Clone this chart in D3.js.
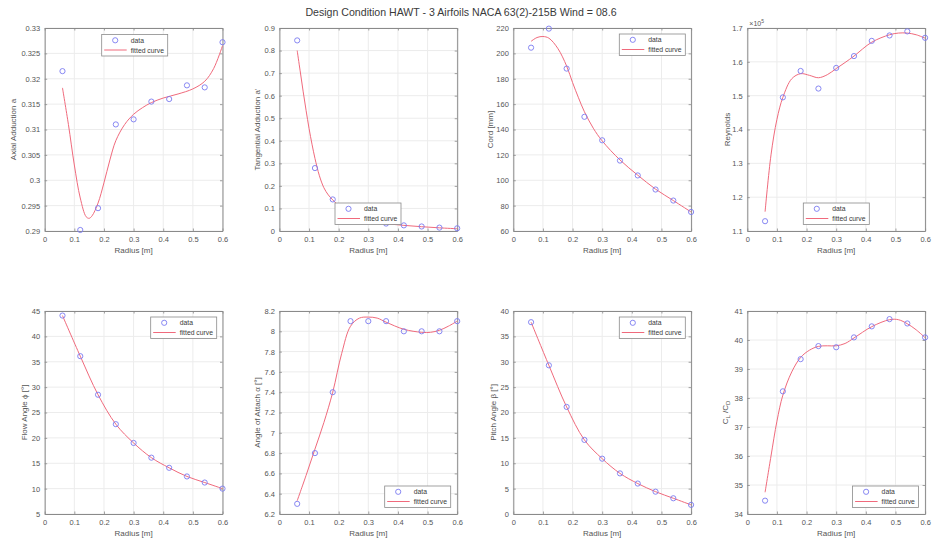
<!DOCTYPE html>
<html><head><meta charset="utf-8">
<script src="https://cdn.jsdelivr.net/npm/d3@7"></script>
<style>
html,body{margin:0;padding:0;background:#fff;}
svg{display:block;font-family:"Liberation Sans",Arial,Helvetica,sans-serif;}
</style></head>
<body><svg id="chart" width="932" height="540"></svg>
<script>
// ---------------- DATA ----------------
const radius = [0.06, 0.12, 0.18, 0.24, 0.30, 0.36, 0.42, 0.48, 0.54, 0.60];
const xTicks = [0, 0.1, 0.2, 0.3, 0.4, 0.5, 0.6];

const axialA      = [0.3215, 0.2902, 0.2945, 0.3110, 0.3120, 0.3155, 0.3160, 0.3187, 0.3183, 0.3272];
const tangentialA = [0.845, 0.279, 0.140, 0.075, 0.048, 0.033, 0.025, 0.020, 0.015, 0.012];
const cord        = [204.5, 219.5, 188, 150, 131.5, 115.5, 103.8, 92.7, 84, 75];
const reynolds    = [112900, 149500, 157300, 152100, 158200, 161700, 166200, 167800, 169000, 167100];
const flowAngle   = [44.1, 36.1, 28.5, 22.7, 19.0, 16.1, 14.1, 12.4, 11.2, 10.0];
const attackAngle = [6.3, 6.8, 7.4, 8.1, 8.1, 8.1, 8.0, 8.0, 8.0, 8.1];
const pitchAngle  = [37.8, 29.3, 21.1, 14.6, 10.9, 8.0, 6.0, 4.4, 3.1, 1.8];
const clcd        = [34.46, 38.23, 39.34, 39.79, 39.75, 40.09, 40.47, 40.72, 40.57, 40.09];

// fitted curves
const fitRAxial = [0.06, 0.08, 0.10, 0.12, 0.14, 0.15, 0.16, 0.18, 0.20, 0.22, 0.24, 0.27, 0.30, 0.33, 0.36, 0.40, 0.45, 0.50, 0.54, 0.57, 0.60];
const fitAxial  = [0.3182, 0.3110, 0.3030, 0.2965, 0.2928, 0.2925, 0.2930, 0.2955, 0.2995, 0.3040, 0.3078, 0.3110, 0.3130, 0.3143, 0.3153, 0.3162, 0.3170, 0.3180, 0.3195, 0.3220, 0.3265];
const fitRTang  = [0.06, 0.07, 0.08, 0.09, 0.10, 0.11, 0.12, 0.135, 0.15, 0.165, 0.18, 0.21, 0.24, 0.27, 0.30, 0.36, 0.42, 0.48, 0.54, 0.60];
const fitTang   = [0.80, 0.71, 0.62, 0.535, 0.455, 0.385, 0.322, 0.245, 0.192, 0.160, 0.138, 0.100, 0.072, 0.055, 0.045, 0.033, 0.025, 0.019, 0.014, 0.010];
const fitRCord  = [0.06, 0.08, 0.10, 0.12, 0.15, 0.18, 0.20, 0.22, 0.24, 0.27, 0.30, 0.36, 0.42, 0.48, 0.54, 0.60];
const fitCord   = [209.5, 212.5, 213.3, 212, 204, 190, 177, 165, 154, 141, 131, 116, 104, 93, 84, 75];
const fitRRe    = [0.06, 0.08, 0.10, 0.12, 0.15, 0.18, 0.21, 0.24, 0.27, 0.30, 0.33, 0.36, 0.42, 0.48, 0.51, 0.54, 0.57, 0.60];
const fitRe     = [115700, 132500, 143000, 149500, 155000, 156500, 156000, 155300, 156200, 158000, 159800, 161700, 165800, 168000, 168500, 168500, 168000, 167000];
const fitRFlow  = radius;
const fitFlow   = flowAngle;
const fitRAtt   = [0.06, 0.09, 0.12, 0.15, 0.18, 0.21, 0.24, 0.27, 0.30, 0.33, 0.36, 0.42, 0.48, 0.51, 0.54, 0.57, 0.60];
const fitAtt    = [6.33, 6.58, 6.84, 7.10, 7.40, 7.78, 8.05, 8.13, 8.14, 8.13, 8.09, 8.02, 7.99, 7.99, 8.01, 8.05, 8.10];
const fitRPitch = radius;
const fitPitch  = pitchAngle;
const fitRClcd  = [0.06, 0.08, 0.10, 0.12, 0.15, 0.18, 0.21, 0.24, 0.27, 0.30, 0.33, 0.36, 0.42, 0.48, 0.51, 0.54, 0.57, 0.60];
const fitClcd   = [34.75, 36.0, 37.2, 38.1, 38.9, 39.4, 39.65, 39.78, 39.80, 39.80, 39.88, 40.07, 40.46, 40.70, 40.70, 40.56, 40.35, 40.08];

const yTicksAxial = [0.29, 0.295, 0.30, 0.305, 0.31, 0.315, 0.32, 0.325, 0.33];
const yTicksTang  = [0, 0.1, 0.2, 0.3, 0.4, 0.5, 0.6, 0.7, 0.8, 0.9];
const yTicksCord  = [60, 80, 100, 120, 140, 160, 180, 200, 220];
const yTicksRe    = [110000, 120000, 130000, 140000, 150000, 160000, 170000];
const yTicksFlow  = [5, 10, 15, 20, 25, 30, 35, 40, 45];
const yTicksAtt   = [6.2, 6.4, 6.6, 6.8, 7, 7.2, 7.4, 7.6, 7.8, 8, 8.2];
const yTicksPitch = [0, 5, 10, 15, 20, 25, 30, 35, 40];
const yTicksClcd  = [34, 35, 36, 37, 38, 39, 40, 41];

const titleText = "Design Condition HAWT - 3 Airfoils NACA 63(2)-215B Wind = 08.6";
const xLabel = "Radius [m]";
const legendLabels = ["data", "fitted curve"];

// ---------------- LAYOUT ----------------
const colLeft = [44.7, 279.4, 513.3, 747.3];
const rowTop = [28, 311];
const W = 177.8, H = 203;

const panels = [
  {y: axialA, fr: fitRAxial, fy: fitAxial, ticks: yTicksAxial, label: "Axial Adduction a", leg: "tl", legX: 57, ylo: 28.5},
  {y: tangentialA, fr: fitRTang, fy: fitTang, ticks: yTicksTang, label: "Tangential Adduction a'", leg: "bl", legX: 55.6, ylo: 19.5},
  {y: cord, fr: fitRCord, fy: fitCord, ticks: yTicksCord, label: "Cord [mm]", leg: "tr", ylo: 20.5},
  {y: reynolds, fr: fitRRe, fy: fitRe, ticks: yTicksRe, label: "Reynolds", leg: "bl", legX: 56, ylo: 17.5, fmt: v => d3.format("~")(+(v/1e5).toFixed(2)), expo: true},
  {y: flowAngle, fr: fitRFlow, fy: fitFlow, ticks: yTicksFlow, label: "Flow Angle \u03D5 [\u00B0]", leg: "tr", ylo: 17.7},
  {y: attackAngle, fr: fitRAtt, fy: fitAtt, ticks: yTicksAtt, label: "Angle of Attach \u03B1 [\u00B0]", leg: "br", ylo: 19.7},
  {y: pitchAngle, fr: fitRPitch, fy: fitPitch, ticks: yTicksPitch, label: "Pitch Angle \u03B2 [\u00B0]", leg: "tr", ylo: 17.6},
  {y: clcd, fr: fitRClcd, fy: fitClcd, ticks: yTicksClcd, label: "CLCD", leg: "br", ylo: 19.5, sub: true}
];

const axisCol = "#8a8a8a", gridCol = "#ececec", textCol = "#555";
const markCol = "#7a7af0", lineCol = "#f06a7c";

const svg = d3.select("#chart");

svg.append("text").attr("x", 461).attr("y", 15.5).attr("text-anchor", "middle")
  .attr("font-size", 10.6).attr("fill", "#3a3a3a").text(titleText);

panels.forEach((p, i) => {
  const left = colLeft[i % 4], top = rowTop[Math.floor(i / 4)];
  const x = d3.scaleLinear().domain([0, 0.6]).range([0, W]);
  const y = d3.scaleLinear().domain(d3.extent(p.ticks)).range([H, 0]);
  const g = svg.append("g").attr("transform", `translate(${left},${top})`);

  // grid
  g.append("g").selectAll("line").data(xTicks).join("line")
    .attr("x1", d => x(d)).attr("x2", d => x(d)).attr("y1", 0).attr("y2", H)
    .attr("stroke", gridCol).attr("stroke-width", 1);
  g.append("g").selectAll("line").data(p.ticks).join("line")
    .attr("y1", d => y(d)).attr("y2", d => y(d)).attr("x1", 0).attr("x2", W)
    .attr("stroke", gridCol).attr("stroke-width", 1);

  const fmt = p.fmt || (v => d3.format("~")(+v.toFixed(4)));
  const styleAxis = sel => {
    sel.select(".domain").attr("stroke", axisCol).attr("stroke-width", 1);
    sel.selectAll(".tick line").attr("stroke", axisCol).attr("stroke-width", 0.8);
    sel.selectAll("text").attr("fill", textCol).attr("font-size", 7.5)
      .attr("font-family", '"Liberation Sans",Arial,sans-serif');
  };
  g.append("g").attr("transform", `translate(0,${H})`)
    .call(d3.axisBottom(x).tickValues(xTicks).tickFormat(d => d3.format("~")(+d.toFixed(2))).tickSize(-2.5).tickSizeOuter(0).tickPadding(5.2))
    .call(styleAxis);
  g.append("g")
    .call(d3.axisTop(x).tickValues(xTicks).tickFormat("").tickSize(-2.5).tickSizeOuter(0))
    .call(styleAxis);
  g.append("g")
    .call(d3.axisLeft(y).tickValues(p.ticks).tickFormat(fmt).tickSize(-2.5).tickSizeOuter(0).tickPadding(4.5))
    .call(styleAxis);
  g.append("g").attr("transform", `translate(${W},0)`)
    .call(d3.axisRight(y).tickValues(p.ticks).tickFormat("").tickSize(-2.5).tickSizeOuter(0))
    .call(styleAxis);

  // x label
  g.append("text").attr("x", W / 2).attr("y", H + 22).attr("text-anchor", "middle")
    .attr("font-size", 8).attr("fill", textCol).text(xLabel);
  // y label
  const yl = g.append("text").attr("transform", `translate(${-p.ylo},${H / 2}) rotate(-90)`)
    .attr("text-anchor", "middle").attr("font-size", 8).attr("fill", textCol);
  if (p.sub) {
    yl.append("tspan").text("C");
    yl.append("tspan").attr("font-size", 6).attr("dy", 2).text("L");
    yl.append("tspan").attr("dy", -2).text(" /C");
    yl.append("tspan").attr("font-size", 6).attr("dy", 2).text("D");
  } else {
    yl.text(p.label);
  }
  if (p.expo) {
    const t = g.append("text").attr("x", 2).attr("y", -2.5).attr("font-size", 7).attr("fill", textCol);
    t.append("tspan").text("\u00D710");
    t.append("tspan").attr("font-size", 5).attr("dy", -3).text("5");
  }

  // fitted curve
  const pts = p.fr.map((r, k) => [r, p.fy[k]]);
  g.append("path").datum(pts)
    .attr("d", d3.line().x(d => x(d[0])).y(d => y(d[1])).curve(d3.curveCatmullRom.alpha(0.5)))
    .attr("fill", "none").attr("stroke", lineCol).attr("stroke-width", 1);
  // data markers
  g.append("g").selectAll("circle").data(radius.map((r, k) => [r, p.y[k]])).join("circle")
    .attr("cx", d => x(d[0])).attr("cy", d => y(d[1])).attr("r", 2.6)
    .attr("fill", "none").attr("stroke", markCol).attr("stroke-width", 0.9);

  // legend
  const lw = 66, lh = 21.5;
  let lx, ly;
  if (p.leg === "tl") { lx = p.legX; ly = 6.5; }
  else if (p.leg === "bl") { lx = p.legX; ly = H - 6.5 - lh; }
  else if (p.leg === "tr") { lx = W - 5.8 - lw; ly = 6; }
  else { lx = W - 6.5 - lw; ly = H - 6.5 - lh; }
  const lg = g.append("g").attr("transform", `translate(${lx},${ly})`);
  lg.append("rect").attr("width", lw).attr("height", lh).attr("fill", "#fff")
    .attr("stroke", "#8a8a8a").attr("stroke-width", 0.8);
  lg.append("circle").attr("cx", 13.5).attr("cy", 5.8).attr("r", 2.6)
    .attr("fill", "none").attr("stroke", markCol).attr("stroke-width", 0.9);
  lg.append("line").attr("x1", 2.5).attr("x2", 25).attr("y1", 15.5).attr("y2", 15.5)
    .attr("stroke", lineCol).attr("stroke-width", 1);
  lg.append("text").attr("x", 29).attr("y", 8.3).attr("font-size", 6.8).attr("fill", "#3a3a3a").text(legendLabels[0]);
  lg.append("text").attr("x", 29).attr("y", 18).attr("font-size", 6.8).attr("fill", "#3a3a3a").text(legendLabels[1]);
});
</script></body></html>
